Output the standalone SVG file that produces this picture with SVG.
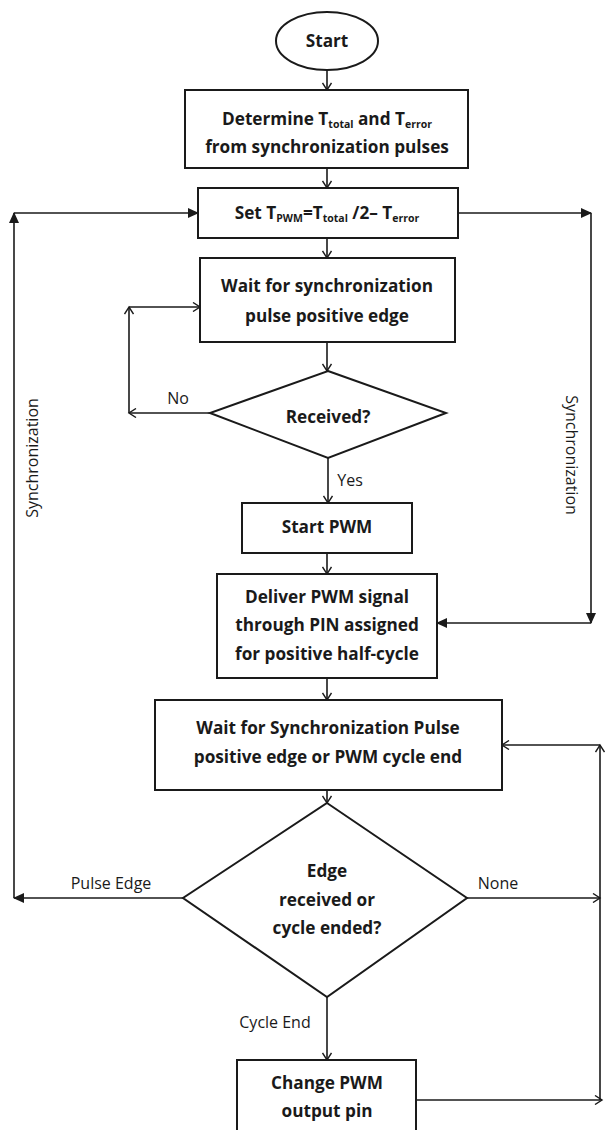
<svg xmlns="http://www.w3.org/2000/svg" width="606" height="1130" viewBox="0 0 606 1130">
<defs>
<style>
.box{fill:#fff;stroke:#1a1a1a;stroke-width:2}
.t{font-family:"Open Sans",Lato,"Liberation Sans",sans-serif;font-weight:700;font-size:17.2px;fill:#1a1a1a;text-anchor:middle}
.l{font-family:"Open Sans",Lato,"Liberation Sans",sans-serif;font-size:16px;fill:#1a1a1a;text-anchor:middle}
.c{fill:none;stroke:#1a1a1a;stroke-width:1.6}
.s{font-size:10.5px}
</style>
<marker id="open" markerWidth="10" markerHeight="10" refX="8" refY="5" orient="auto" markerUnits="userSpaceOnUse">
<path d="M1,0.5 L8,5 L1,9.5" fill="none" stroke="#1a1a1a" stroke-width="1.4"/>
</marker>
<marker id="fill" markerWidth="12" markerHeight="12" refX="10" refY="6" orient="auto" markerUnits="userSpaceOnUse">
<path d="M0,1 L11,6 L0,11 Z" fill="#1a1a1a"/>
</marker>
</defs>
<rect width="606" height="1130" fill="#fff"/>
<g id="connectors">
<line class="c" x1="327" y1="70" x2="327" y2="90" marker-end="url(#open)"/>
<line class="c" x1="327" y1="168" x2="327" y2="188" marker-end="url(#open)"/>
<line class="c" x1="327" y1="238" x2="327" y2="258" marker-end="url(#open)"/>
<line class="c" x1="327" y1="342" x2="327" y2="371" marker-end="url(#open)"/>
<line class="c" x1="210" y1="413" x2="129" y2="413" marker-end="url(#open)"/>
<line class="c" x1="129" y1="413" x2="129" y2="307" marker-end="url(#open)"/>
<line class="c" x1="129" y1="307" x2="200" y2="307" marker-end="url(#open)"/>
<line class="c" x1="328" y1="458" x2="328" y2="503" marker-end="url(#open)"/>
<line class="c" x1="327" y1="553" x2="327" y2="574" marker-end="url(#open)"/>
<line class="c" x1="327" y1="678" x2="327" y2="700" marker-end="url(#open)"/>
<line class="c" x1="327" y1="790" x2="327" y2="803" marker-end="url(#open)"/>
<line class="c" x1="183" y1="898" x2="14" y2="898" marker-end="url(#fill)"/>
<line class="c" x1="14" y1="898" x2="14" y2="213" marker-end="url(#fill)"/>
<line class="c" x1="14" y1="213" x2="198" y2="213" marker-end="url(#fill)"/>
<line class="c" x1="458" y1="213" x2="591" y2="213" marker-end="url(#fill)"/>
<line class="c" x1="591" y1="213" x2="591" y2="623" marker-end="url(#fill)"/>
<line class="c" x1="591" y1="623" x2="437" y2="623" marker-end="url(#fill)"/>
<line class="c" x1="467" y1="898" x2="600" y2="898" marker-end="url(#open)"/>
<line class="c" x1="327" y1="997" x2="327" y2="1060" marker-end="url(#open)"/>
<line class="c" x1="417" y1="1100" x2="602" y2="1100" marker-end="url(#open)"/>
<line class="c" x1="600" y1="1100" x2="600" y2="745" marker-end="url(#open)"/>
<line class="c" x1="600" y1="745" x2="502" y2="745" marker-end="url(#open)"/>
<text class="l" x="178" y="404">No</text>
<text class="l" x="350" y="486">Yes</text>
<text class="l" x="111" y="889">Pulse Edge</text>
<text class="l" x="498" y="889">None</text>
<text class="l" x="275" y="1028">Cycle End</text>
<text class="l" transform="translate(38,458) rotate(-90)">Synchronization</text>
<text class="l" transform="translate(566,455) rotate(90)">Synchronization</text>
</g>
<g id="start">
<ellipse class="box" cx="327" cy="41" rx="51" ry="29"/>
<text class="t" x="327" y="47">Start</text>
</g>
<g id="determine">
<rect class="box" x="185" y="90" width="283" height="78"/>
<text class="t" x="327" y="125">Determine T<tspan class="s" dy="3">total</tspan><tspan dy="-3"> and T</tspan><tspan class="s" dy="3">error</tspan></text>
<text class="t" x="327" y="153">from synchronization pulses</text>
</g>
<g id="set">
<rect class="box" x="198" y="188" width="260" height="50"/>
<text class="t" x="327" y="219">Set T<tspan class="s" dy="3">PWM</tspan><tspan dy="-3">=T</tspan><tspan class="s" dy="3">total</tspan><tspan dy="-3"> /2– T</tspan><tspan class="s" dy="3">error</tspan></text>
</g>
<g id="wait1">
<rect class="box" x="200" y="258" width="255" height="84"/>
<text class="t" x="327" y="292">Wait for synchronization</text>
<text class="t" x="327" y="322">pulse positive edge</text>
</g>
<g id="received">
<polygon class="box" points="328,371 446,413 328,458 210,413"/>
<text class="t" x="328" y="423">Received?</text>
</g>
<g id="startpwm">
<rect class="box" x="242" y="503" width="170" height="50"/>
<text class="t" x="327" y="533">Start PWM</text>
</g>
<g id="deliver">
<rect class="box" x="217" y="574" width="220" height="104"/>
<text class="t" x="327" y="603">Deliver PWM signal</text>
<text class="t" x="327" y="631">through PIN assigned</text>
<text class="t" x="327" y="660">for positive half-cycle</text>
</g>
<g id="wait2">
<rect class="box" x="155" y="700" width="347" height="90"/>
<text class="t" x="328" y="734">Wait for Synchronization Pulse</text>
<text class="t" x="328" y="763">positive edge or PWM cycle end</text>
</g>
<g id="edge">
<polygon class="box" points="327,803 467,898 327,997 183,898"/>
<text class="t" x="327" y="877">Edge</text>
<text class="t" x="327" y="906">received or</text>
<text class="t" x="327" y="934">cycle ended?</text>
</g>
<g id="change">
<rect class="box" x="237" y="1060" width="179" height="80"/>
<text class="t" x="327" y="1089">Change PWM</text>
<text class="t" x="327" y="1117">output pin</text>
</g>
</svg>
